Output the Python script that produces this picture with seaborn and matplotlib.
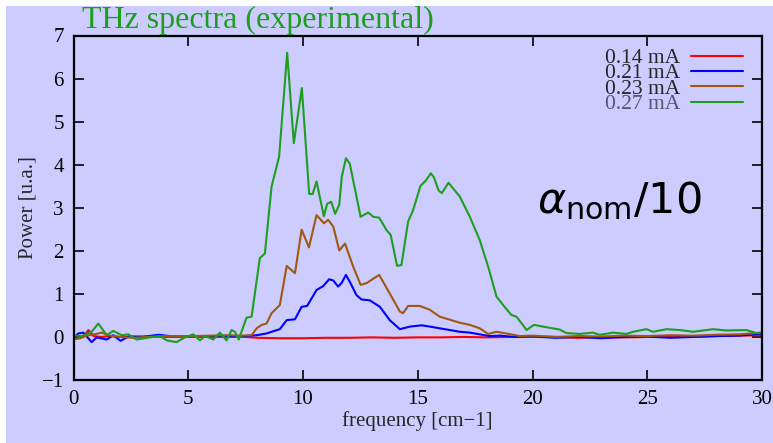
import pandas as pd
import matplotlib
matplotlib.use('Agg')
import matplotlib.pyplot as plt
from matplotlib.patches import Rectangle
import seaborn as sns

# values
currents = ['0.14 mA', '0.21 mA', '0.23 mA', '0.27 mA']
colors = ['#FF0000', '#0000FF', '#A0580F', '#1E9E1E']

freq_014 = [0, 0.3, 0.5, 0.65, 0.87, 1.2, 1.6, 2.0, 3, 4, 5, 6, 7, 7.5, 8, 9, 10, 11, 12, 13,
            14, 15, 16, 17, 18, 19, 20, 21, 22, 23, 24, 25, 26, 27, 28, 29, 30]
power_014 = [-0.05, -0.02, 0.05, 0.16, 0.02, 0.0, 0.02, 0.0, 0.01, 0.0, 0.01, 0.0, 0.01, 0.0, -0.02,
             -0.03, -0.03, -0.02, -0.02, -0.01, -0.02, -0.01, -0.01, 0.0, -0.01, 0.0, 0.01, 0.0,
             -0.02, 0.0, -0.01, 0.0, 0.01, 0.0, 0.02, 0.03, 0.04]

freq_021 = [0, 0.21, 0.43, 0.79, 1.01, 1.45, 1.73, 2.05, 2.4, 3.0, 3.7, 4.2, 5, 6, 7, 7.5, 7.98,
            8.41, 8.63, 8.99, 9.29, 9.65, 9.94, 10.18, 10.59, 10.88, 11.14, 11.32, 11.53, 11.68,
            11.87, 12.04, 12.33, 12.55, 12.91, 13.35, 13.78, 14.22, 14.66, 15.17, 15.53, 15.96,
            16.40, 16.83, 17.27, 17.70, 18.14, 18.6, 19.2, 20, 21, 22, 23, 24, 25, 26, 27, 28, 29, 30]
power_021 = [-0.02, 0.08, 0.10, -0.12, -0.01, -0.06, 0.04, -0.09, 0.01, 0.0, 0.05, 0.02, 0.01,
             0.02, 0.01, 0.02, 0.04, 0.08, 0.12, 0.18, 0.39, 0.41, 0.70, 0.72, 1.09, 1.18, 1.34,
             1.31, 1.17, 1.25, 1.44, 1.28, 0.97, 0.87, 0.85, 0.70, 0.39, 0.18, 0.24, 0.27, 0.24,
             0.20, 0.16, 0.12, 0.10, 0.06, 0.02, 0.03, 0.0, 0.01, -0.02, 0.0, -0.03, 0.0, 0.01,
             -0.02, 0.0, 0.02, 0.03, 0.08]

freq_023 = [0, 0.29, 0.58, 0.9, 1.23, 1.6, 2.0, 2.6, 3.2, 4, 5, 6, 6.8, 7.3, 7.76, 7.98, 8.20,
            8.41, 8.63, 8.99, 9.29, 9.65, 9.94, 10.26, 10.59, 10.91, 11.10, 11.32, 11.58, 11.83,
            12.19, 12.51, 12.77, 13.32, 13.78, 14.22, 14.36, 14.58, 15.09, 15.53, 15.96, 16.40,
            16.83, 17.27, 17.70, 18.07, 18.43, 18.87, 19.45, 20, 21, 22, 23, 24, 25, 26, 27, 28, 29, 30]
power_023 = [-0.05, -0.03, 0.03, 0.06, 0.10, 0.03, 0.0, -0.02, 0.0, 0.02, 0.02, 0.03, 0.04, 0.03,
             0.04, 0.20, 0.28, 0.31, 0.55, 0.74, 1.65, 1.48, 2.49, 2.08, 2.83, 2.64, 2.72, 2.56,
             2.01, 2.17, 1.63, 1.21, 1.25, 1.44, 1.01, 0.59, 0.55, 0.72, 0.72, 0.63, 0.47, 0.40,
             0.33, 0.28, 0.20, 0.07, 0.12, 0.08, 0.02, 0.03, 0.0, 0.02, 0.01, 0.03, 0.02, 0.04,
             0.03, 0.05, 0.06, 0.10]

freq_027 = [0, 0.36, 0.79, 1.08, 1.45, 1.73, 2.10, 2.39, 2.75, 3.33, 3.77, 4.06, 4.49, 4.86,
            5.22, 5.51, 5.73, 6.09, 6.38, 6.67, 6.89, 7.03, 7.20, 7.54, 7.76, 8.12, 8.34, 8.63,
            8.96, 9.31, 9.60, 9.95, 10.27, 10.42, 10.59, 10.91, 11.05, 11.23, 11.40, 11.58, 11.69,
            11.87, 12.04, 12.51, 12.84, 13.06, 13.32, 13.64, 13.82, 14.10, 14.29, 14.58, 14.80,
            15.12, 15.35, 15.57, 15.70, 15.91, 16.05, 16.34, 16.83, 17.27, 17.70, 18.07, 18.43,
            18.72, 19.08, 19.30, 19.52, 19.74, 20.06, 20.46, 21.19, 21.48, 22.06, 22.64, 22.93,
            23.51, 24.09, 24.38, 24.97, 25.25, 25.84, 26.42, 27.00, 27.87, 28.45, 29.32, 29.76, 30.0]
power_027 = [0.04, 0.02, 0.12, 0.31, 0.04, 0.14, 0.04, 0.06, -0.06, -0.01, 0.02, -0.08, -0.12,
             -0.01, 0.06, -0.08, 0.02, -0.06, 0.10, -0.08, 0.16, 0.12, -0.06, 0.45, 0.47, 1.83,
             1.94, 3.49, 4.19, 6.60, 4.50, 5.78, 3.32, 3.32, 3.61, 2.80, 3.09, 3.14, 2.86, 3.07,
             3.72, 4.15, 4.02, 2.79, 2.89, 2.79, 2.77, 2.48, 2.37, 1.65, 1.67, 2.68, 2.95, 3.51,
             3.63, 3.80, 3.71, 3.40, 3.34, 3.58, 3.26, 2.79, 2.25, 1.63, 0.94, 0.74, 0.51, 0.47,
             0.32, 0.16, 0.28, 0.24, 0.17, 0.09, 0.07, 0.10, 0.05, 0.10, 0.07, 0.12, 0.18, 0.12,
             0.18, 0.16, 0.12, 0.18, 0.15, 0.16, 0.09, 0.10]

xticks = [0, 5, 10, 15, 20, 25, 30]
yticks = [-1, 0, 1, 2, 3, 4, 5, 6, 7]

sns.set_style('ticks')
plt.rcParams['font.family'] = ['Liberation Serif', 'DejaVu Sans']
plt.rcParams['mathtext.fontset'] = 'dejavusans'

# long-form table for seaborn
series = [(freq_014, power_014), (freq_021, power_021), (freq_023, power_023), (freq_027, power_027)]
df = pd.concat([pd.DataFrame({'freq': f, 'power': p, 'current': c})
                for (f, p), c in zip(series, currents)], ignore_index=True)

bg = '#CCCCFF'
fig = plt.figure(figsize=(7.73, 4.43), dpi=100, facecolor='white')
fig.patches.append(Rectangle((6 / 773, 0), 1, 1 - 6 / 443, transform=fig.transFigure,
                             facecolor=bg, edgecolor='none', zorder=-10))
ax = fig.add_axes([73.5 / 773, 1 - 380 / 443, (762 - 73.5) / 773, (380 - 35.5) / 443])
ax.set_facecolor('none')

sns.lineplot(data=df, x='freq', y='power', hue='current', palette=dict(zip(currents, colors)),
             estimator=None, sort=False, linewidth=1.5, ax=ax)

ax.set_xlim(0, 30)
ax.set_ylim(-1, 7)
ax.set_xticks(xticks)
ax.set_yticks(yticks)
ax.set_yticklabels([str(t).replace('-', '\u2212') for t in yticks])
ax.tick_params(direction='in', length=7, width=1.2, top=True, right=True,
               labelsize=15, colors='black')
ax.tick_params(axis='x', pad=7)
ax.tick_params(axis='y', pad=7)
for s in ax.spines.values():
    s.set_linewidth(1.6)
    s.set_color('black')

ax.set_xlabel('frequency [cm\u22121]', fontsize=15, labelpad=2)
ax.set_ylabel('Power [u.a.]', fontsize=15, labelpad=3)

handles, labels = ax.get_legend_handles_labels()
leg = ax.legend(handles, labels, loc='upper right', bbox_to_anchor=(1.0, 1.02), frameon=False,
                markerfirst=False, fontsize=15.5, handlelength=2.4, handletextpad=0.5,
                labelspacing=-0.22)
leg.get_texts()[3].set_color('#555570')

fig.text(82 / 773, 1 - 28 / 443, 'THz spectra (experimental)', color='#1E9E1E',
         fontsize=23, va='baseline', ha='left')
ax.text(20.2, 2.88, r'$\alpha_{\mathrm{nom}}/10$', fontsize=31, va='baseline', ha='left',
        color='black')

plt.savefig('out.png', dpi=100, facecolor=fig.get_facecolor())
plt.close()
